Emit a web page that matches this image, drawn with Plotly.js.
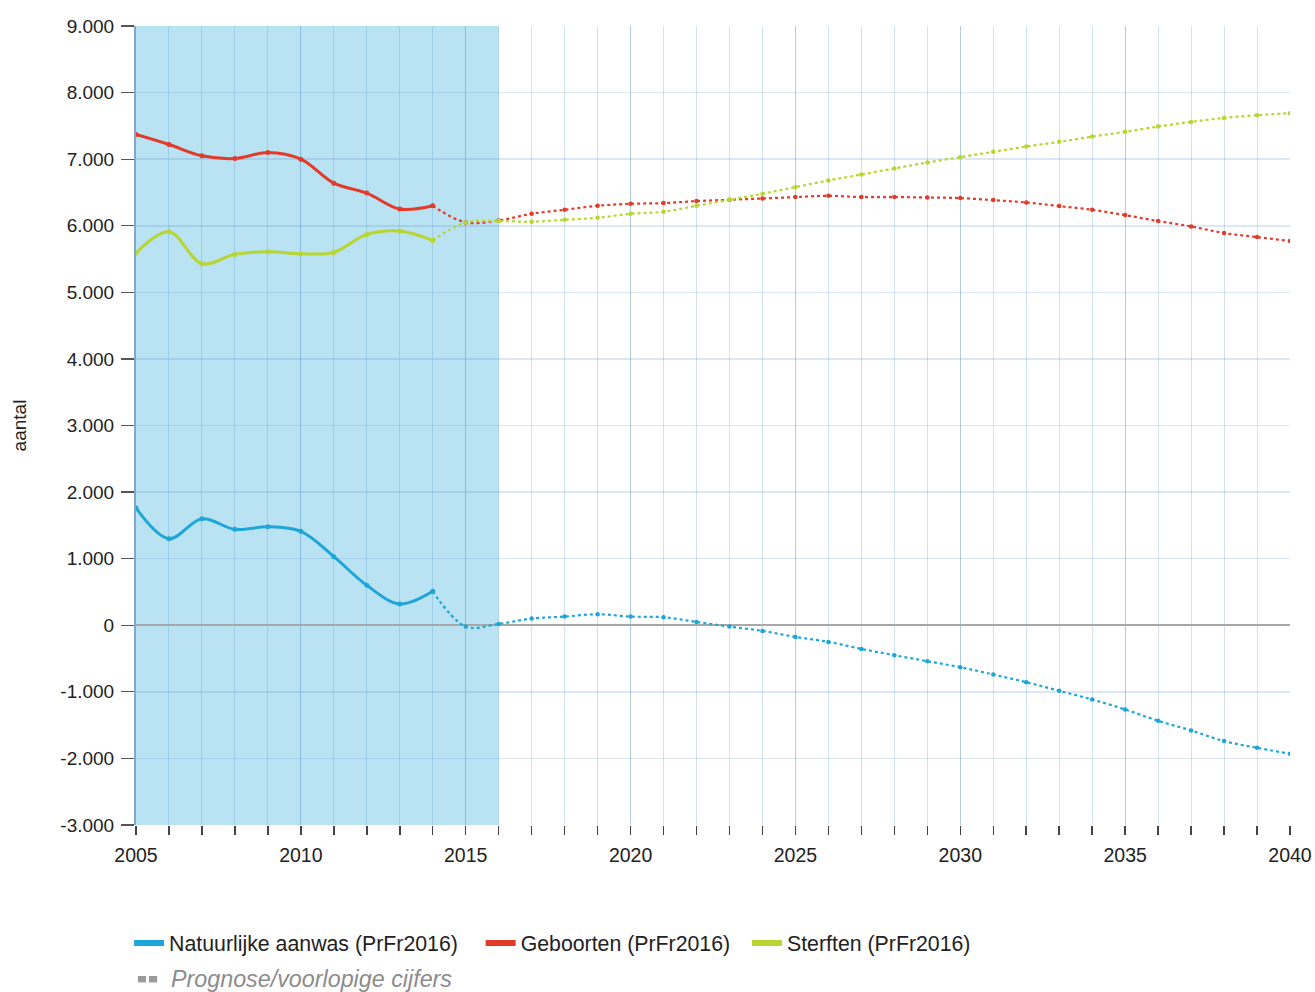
<!DOCTYPE html>
<html>
<head>
<meta charset="utf-8">
<script src="https://cdn.plot.ly/plotly-3.0.1.min.js"></script>
<style>
  html, body { margin: 0; padding: 0; background: #fff; }
  #chart { width: 1315px; height: 992px; }
</style>
</head>
<body>
<div id="chart"></div>
<script>
// ---- Data ----
const years = [2005,2006,2007,2008,2009,2010,2011,2012,2013,2014,2015,2016,2017,2018,2019,2020,2021,2022,2023,2024,2025,2026,2027,2028,2029,2030,2031,2032,2033,2034,2035,2036,2037,2038,2039,2040];
const natuurlijkeAanwas = [1760,1300,1600,1440,1480,1410,1030,600,320,510,-20,20,100,130,165,130,120,50,-20,-85,-175,-250,-355,-450,-540,-630,-740,-855,-985,-1115,-1265,-1435,-1580,-1740,-1840,-1930];
const geboorten = [7370,7220,7050,7010,7100,7000,6640,6490,6250,6300,6050,6080,6180,6240,6300,6330,6340,6370,6390,6410,6430,6450,6430,6430,6425,6415,6385,6350,6295,6240,6160,6070,5990,5890,5830,5770];
const sterften = [5590,5910,5430,5570,5610,5580,5600,5870,5920,5780,6050,6070,6060,6090,6120,6180,6210,6300,6390,6480,6580,6680,6770,6860,6950,7030,7110,7190,7260,7340,7410,7490,7560,7620,7660,7690];
const seriesNames = ["Natuurlijke aanwas (PrFr2016)", "Geboorten (PrFr2016)", "Sterften (PrFr2016)"];
const lastDefinitiveYear = 2014;
const shadeStartYear = 2005;
const shadeEndYear = 2016;
const yTickVals = [9000,8000,7000,6000,5000,4000,3000,2000,1000,0,-1000,-2000,-3000];
const yTickLabels = ["9.000","8.000","7.000","6.000","5.000","4.000","3.000","2.000","1.000","0","-1.000","-2.000","-3.000"];
const xTickVals = [2005,2010,2015,2020,2025,2030,2035,2040];
const xTickLabels = ["2005","2010","2015","2020","2025","2030","2035","2040"];
const legendNote = "Prognose/voorlopige cijfers";

// ---- Styling ----
const colors = ["#1ea6d8", "#e23b2a", "#b9d531"];
const series = [natuurlijkeAanwas, geboorten, sterften];
const splitIdx = years.indexOf(lastDefinitiveYear);
const pads = ["\u00a0\u00a0\u00a0", "\u00a0\u00a0", ""];

const traces = [];
series.forEach((vals, i) => {
  traces.push({
    x: years.slice(0, splitIdx + 1), y: vals.slice(0, splitIdx + 1),
    type: "scatter", mode: "lines+markers",
    line: { color: colors[i], width: 3, shape: "spline", smoothing: 1 },
    marker: { color: colors[i], size: 5 },
    showlegend: false, hoverinfo: "x+y"
  });
  traces.push({
    x: years.slice(splitIdx), y: vals.slice(splitIdx),
    type: "scatter", mode: "lines+markers",
    line: { color: colors[i], width: 2.2, dash: "dot", shape: "spline", smoothing: 1 },
    marker: { color: colors[i], size: 4.5 },
    showlegend: false, hoverinfo: "x+y"
  });
});
// legend-only entries
series.forEach((vals, i) => {
  traces.push({
    x: [null], y: [null], type: "scatter", mode: "lines",
    name: seriesNames[i] + pads[i],
    line: { color: colors[i], width: 6 },
    showlegend: true, hoverinfo: "skip"
  });
});

const layout = {
  width: 1315, height: 992,
  margin: { l: 136, r: 25, t: 26, b: 167 },
  paper_bgcolor: "#ffffff", plot_bgcolor: "#ffffff",
  font: { family: "Liberation Sans, Arial, sans-serif", size: 19, color: "#222" },
  separators: ",.",
  showlegend: true,
  legend: {
    orientation: "h", x: -0.006, xanchor: "left", y: -0.148, yanchor: "middle",
    font: { size: 21.3, color: "#222" }, itemwidth: 30, itemclick: false, bgcolor: "rgba(0,0,0,0)"
  },
  xaxis: {
    range: [2005, 2040], tickmode: "array", tickvals: xTickVals, ticktext: xTickLabels,
    ticks: "outside", ticklen: 9, tickcolor: "#444", tickwidth: 1.5,
    showgrid: true, gridcolor: "rgba(90,150,200,0.28)", gridwidth: 1,
    minor: { dtick: 1, tick0: 2005, ticks: "outside", ticklen: 9, tickcolor: "#444", tickwidth: 1.5, showgrid: true, gridcolor: "rgba(90,150,200,0.28)", gridwidth: 1 },
    showline: false, zeroline: false, tickfont: { size: 19.5, color: "#222" }, ticklabelstandoff: 4,
    fixedrange: true
  },
  yaxis: {
    range: [-3000, 9000], tickmode: "array", tickvals: yTickVals, ticktext: yTickLabels,
    ticks: "outside", ticklen: 13, tickcolor: "#555", tickwidth: 1.2,
    showgrid: true, gridcolor: "rgba(90,150,200,0.22)", gridwidth: 1.5,
    zeroline: true, zerolinecolor: "#a8a8a8", zerolinewidth: 2,
    showline: true, linecolor: "#7fa9c8", linewidth: 2,
    title: { text: "aantal", font: { size: 19, color: "#222" }, standoff: 29 },
    tickfont: { size: 19, color: "#222" }, ticklabelstandoff: 3,
    fixedrange: true
  },
  shapes: [
    { type: "rect", xref: "x", yref: "y", x0: shadeStartYear, x1: shadeEndYear, y0: -3000, y1: 9000,
      fillcolor: "#b9e2f3", line: { width: 0 }, layer: "below" },
    { type: "rect", xref: "paper", yref: "paper", x0: 0.0017, x1: 0.0087, y0: -0.197, y1: -0.189,
      fillcolor: "#9a9a9a", line: { width: 0 } },
    { type: "rect", xref: "paper", yref: "paper", x0: 0.0113, x1: 0.0183, y0: -0.197, y1: -0.189,
      fillcolor: "#9a9a9a", line: { width: 0 } }
  ],
  annotations: [
    { xref: "paper", yref: "paper", x: 0.029, y: -0.193, xanchor: "left", yanchor: "middle",
      text: "<i>" + legendNote + "</i>", showarrow: false, font: { size: 23.3, color: "#8c8c8c" } }
  ]
};

Plotly.newPlot("chart", traces, layout, { displayModeBar: false, staticPlot: true });
</script>
</body>
</html>
